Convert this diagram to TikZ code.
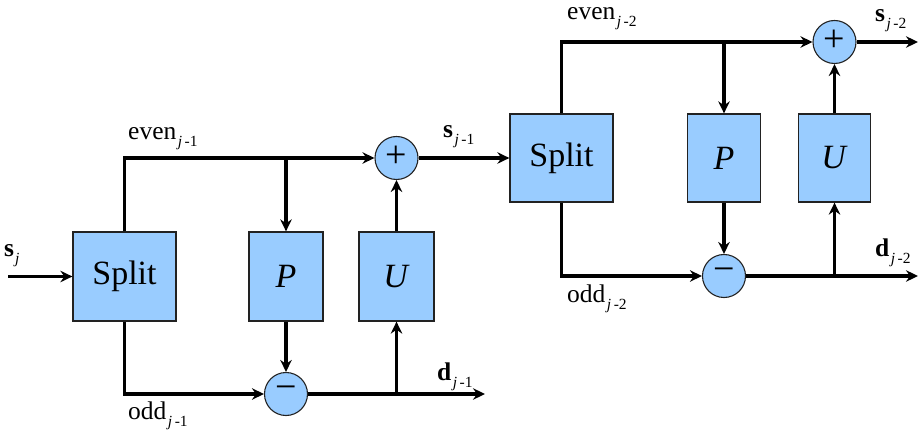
\documentclass[tikz,border=0pt]{standalone}
\usepackage{fontspec}
\setmainfont{Liberation Serif}
\usetikzlibrary{arrows.meta}
\definecolor{boxblue}{HTML}{99CCFF}
\definecolor{edgegray}{HTML}{222222}
\newcommand\mysub[2]{\hspace{1.5pt}\raisebox{-#1}{\fontsize{15.5}{15.5}\selectfont\textit{j}\hspace{2.5pt}-#2}}
\tikzset{
 blk/.style={draw=edgegray, line width=1.3pt, fill=boxblue, minimum width=103pt, minimum height=89pt, inner sep=0pt, font=\fontsize{34}{38}\selectfont},
 opbox/.style={blk, minimum width=74pt},
 sumnode/.style={circle, draw=edgegray, line width=1.1pt, fill=boxblue, minimum size=43pt, inner sep=0pt, font=\fontsize{38}{40}\selectfont},
 wire/.style={line width=3.2pt},
 arr/.style={wire, -{Stealth[length=12pt,width=11.5pt,inset=4pt]}},
 lbl/.style={font=\fontsize{25.5}{28}\selectfont, inner sep=0pt, anchor=base west},
}
\begin{document}
\begin{tikzpicture}[x=1pt,y=-1pt]
\useasboundingbox (0,0) rectangle (918,430);
% stage 1
\node[blk] (split1) at (124.5,276.5) {Split};
\node[opbox] (P1) at (286,276.5) {\textit{P}};
\node[opbox, minimum width=75pt] (U1) at (396.5,276.5) {\textit{U}};
\node[sumnode] (plus1) at (396.5,158) {\raisebox{2pt}{+}};
\node[sumnode] (minus1) at (286,394) {\raisebox{2pt}{−}};
\coordinate (in1) at (8,276.5);
\coordinate (d1) at (485,394);
% stage 2
\node[blk, minimum height=88pt] (split2) at (561.5,158) {Split};
\node[opbox, minimum height=88pt, minimum width=73pt] (P2) at (724,158) {\textit{P}};
\node[opbox, minimum height=88pt, minimum width=72pt] (U2) at (834.5,158) {\textit{U}};
\node[sumnode] (plus2) at (834.5,42) {\raisebox{2pt}{+}};
\node[sumnode] (minus2) at (724,276) {\raisebox{2pt}{−}};
\coordinate (s2) at (918,42);
\coordinate (d2) at (918,276);
% wires stage 1
\draw[arr] (in1) -- (split1.west);
\draw[arr] (split1.north) |- (plus1.west);
\draw[arr] (P1.north |- plus1) -- (P1.north);
\draw[arr] (split1.south) |- (minus1.west);
\draw[arr] (P1.south) -- (minus1.north);
\draw[arr] (minus1.east) -- (d1);
\draw[arr] (U1.south |- minus1) -- (U1.south);
\draw[arr] (U1.north) -- (plus1.south);
\draw[arr] (plus1.east) -- (split2.west);
% wires stage 2
\draw[arr] (split2.north) |- (plus2.west);
\draw[arr] (P2.north |- plus2) -- (P2.north);
\draw[arr] (split2.south) |- (minus2.west);
\draw[arr] (P2.south) -- (minus2.north);
\draw[arr] (minus2.east) -- (d2);
\draw[arr] (U2.south |- minus2) -- (U2.south);
\draw[arr] (U2.north) -- (plus2.south);
\draw[arr] (plus2.east) -- (s2);
% labels
\node[lbl] (lsj) at (4,257) {\textbf{s}\hspace{1pt}\raisebox{-7pt}{\fontsize{15.5}{15.5}\selectfont\textit{j}}};
\node[lbl] (le1) at (128,140) {even\mysub{7pt}{1}};
\node[lbl] (lo1) at (128,419) {odd\mysub{7pt}{1}};
\node[lbl] (ld1) at (437,380) {\textbf{d}\mysub{7pt}{1}};
\node[lbl] (ls1) at (443,138) {\textbf{s}\mysub{7pt}{1}};
\node[lbl] (le2) at (567,20) {even\mysub{7pt}{2}};
\node[lbl] (lo2) at (567,302) {odd\mysub{7pt}{2}};
\node[lbl] (ls2) at (875,22) {\textbf{s}\mysub{7pt}{2}};
\node[lbl] (ld2) at (875,257) {\textbf{d}\mysub{7pt}{2}};
\end{tikzpicture}
\end{document}
